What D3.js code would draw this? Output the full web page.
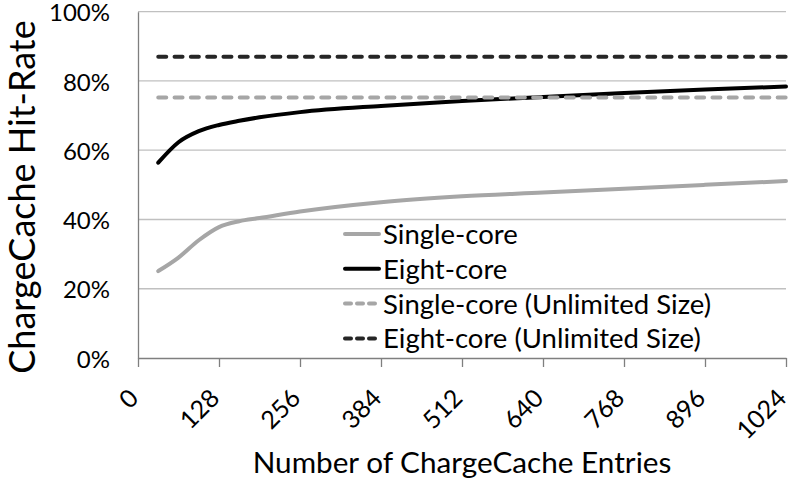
<html>
<head>
<script src="https://d3js.org/d3.v7.min.js"></script>
<style>
body { margin: 0; background: #fff; }
text { font-family: Lato, "Open Sans", sans-serif; fill: #000; }
</style>
</head>
<body>
<div id="chart"></div>
<script>
// hit-rate vs number of ChargeCache entries
var entries    = [32, 64, 96, 128, 160, 192, 256, 384, 512, 640, 768, 896, 1024];
var singleCore = [25.1, 29.0, 34.0, 37.8, 39.5, 40.4, 42.3, 45.0, 46.7, 47.8, 48.9, 50.0, 51.1];
var eightCore  = [56.4, 62.3, 65.5, 67.3, 68.5, 69.5, 71.0, 72.8, 74.2, 75.4, 76.5, 77.5, 78.4];
var singleUnlimited = 75.2;
var eightUnlimited  = 87.0;
var xTicks = [0, 128, 256, 384, 512, 640, 768, 896, 1024];
var yTicks = [0, 20, 40, 60, 80, 100];

var width = 789, height = 480;
var margin = {top: 11.7, right: 3, bottom: 122, left: 138};

var svg = d3.select("#chart").append("svg")
    .attr("width", width)
    .attr("height", height);

var x = d3.scaleLinear().domain([0, 1024]).range([margin.left, width - margin.right]);
var y = d3.scaleLinear().domain([0, 100]).range([height - margin.bottom, margin.top]);

// gridlines
svg.append("g")
  .selectAll("line")
  .data(yTicks.filter(function(d) { return d > 0; }))
  .enter().append("line")
    .attr("x1", x(0)).attr("x2", x(1024))
    .attr("y1", function(d) { return y(d); })
    .attr("y2", function(d) { return y(d); })
    .style("stroke", "#c0c0c0")
    .style("stroke-width", 1.3);

// y axis
var yAxis = svg.append("g")
    .attr("transform", "translate(" + x(0) + ",0)")
    .call(d3.axisLeft(y).tickValues(yTicks).tickSize(0).tickPadding(28)
      .tickFormat(function(d) { return d + "%"; }));
yAxis.select(".domain").style("stroke", "#7f7f7f").style("stroke-width", 1.3);
yAxis.selectAll("text").style("font-size", "24px").attr("dy", "0.38em");

// x axis
var xAxis = svg.append("g")
    .attr("transform", "translate(0," + y(0) + ")")
    .call(d3.axisBottom(x).tickValues(xTicks).tickSizeInner(9).tickSizeOuter(0)
      .tickFormat(d3.format("d")));
xAxis.select(".domain").style("stroke", "#7f7f7f").style("stroke-width", 1.3);
xAxis.selectAll(".tick line").style("stroke", "#7f7f7f").style("stroke-width", 1.3);
xAxis.selectAll("text")
    .style("font-size", "25px")
    .style("text-anchor", "end")
    .attr("x", -28.5).attr("y", 30.5).attr("dy", 0)
    .attr("transform", "rotate(-45)");

// axis titles
svg.append("text")
    .attr("x", (x(0) + x(1024)) / 2).attr("y", 473)
    .attr("text-anchor", "middle")
    .style("font-size", "29.7px")
    .text("Number of ChargeCache Entries");

svg.append("text")
    .attr("transform", "translate(35,197) rotate(-90)")
    .attr("text-anchor", "middle")
    .style("font-size", "36px")
    .text("ChargeCache Hit-Rate");

// series
var line = d3.line()
    .x(function(d) { return x(d[0]); })
    .y(function(d) { return y(d[1]); })
    .curve(d3.curveMonotoneX);

var series = [
  {name: "Single-core", values: d3.zip(entries, singleCore), color: "#a6a6a6", dash: null},
  {name: "Eight-core", values: d3.zip(entries, eightCore), color: "#000000", dash: null},
  {name: "Single-core (Unlimited Size)", values: [[32, singleUnlimited], [1024, singleUnlimited]], color: "#a6a6a6", dash: "8,8.3"},
  {name: "Eight-core (Unlimited Size)", values: [[32, eightUnlimited], [1024, eightUnlimited]], color: "#262626", dash: "8,8.3"}
];

svg.append("g").selectAll("path")
  .data(series)
  .enter().append("path")
    .attr("d", function(d) { return line(d.values); })
    .style("fill", "none")
    .style("stroke", function(d) { return d.color; })
    .style("stroke-width", 4)
    .style("stroke-linecap", "round")
    .style("stroke-dasharray", function(d) { return d.dash; });

// legend
var legend = svg.append("g").selectAll("g")
  .data(series)
  .enter().append("g")
    .attr("transform", function(d, i) { return "translate(343," + (234 + i * 34.8) + ")"; });
legend.append("line")
    .attr("x1", 2).attr("x2", 36)
    .style("stroke", function(d) { return d.color; })
    .style("stroke-width", 4)
    .style("stroke-linecap", "round")
    .style("stroke-dasharray", function(d) { return d.dash ? "6,6" : null; });
legend.append("text")
    .attr("x", 40).attr("dy", "0.36em")
    .style("font-size", "27.5px")
    .text(function(d) { return d.name; });
</script>
</body>
</html>
